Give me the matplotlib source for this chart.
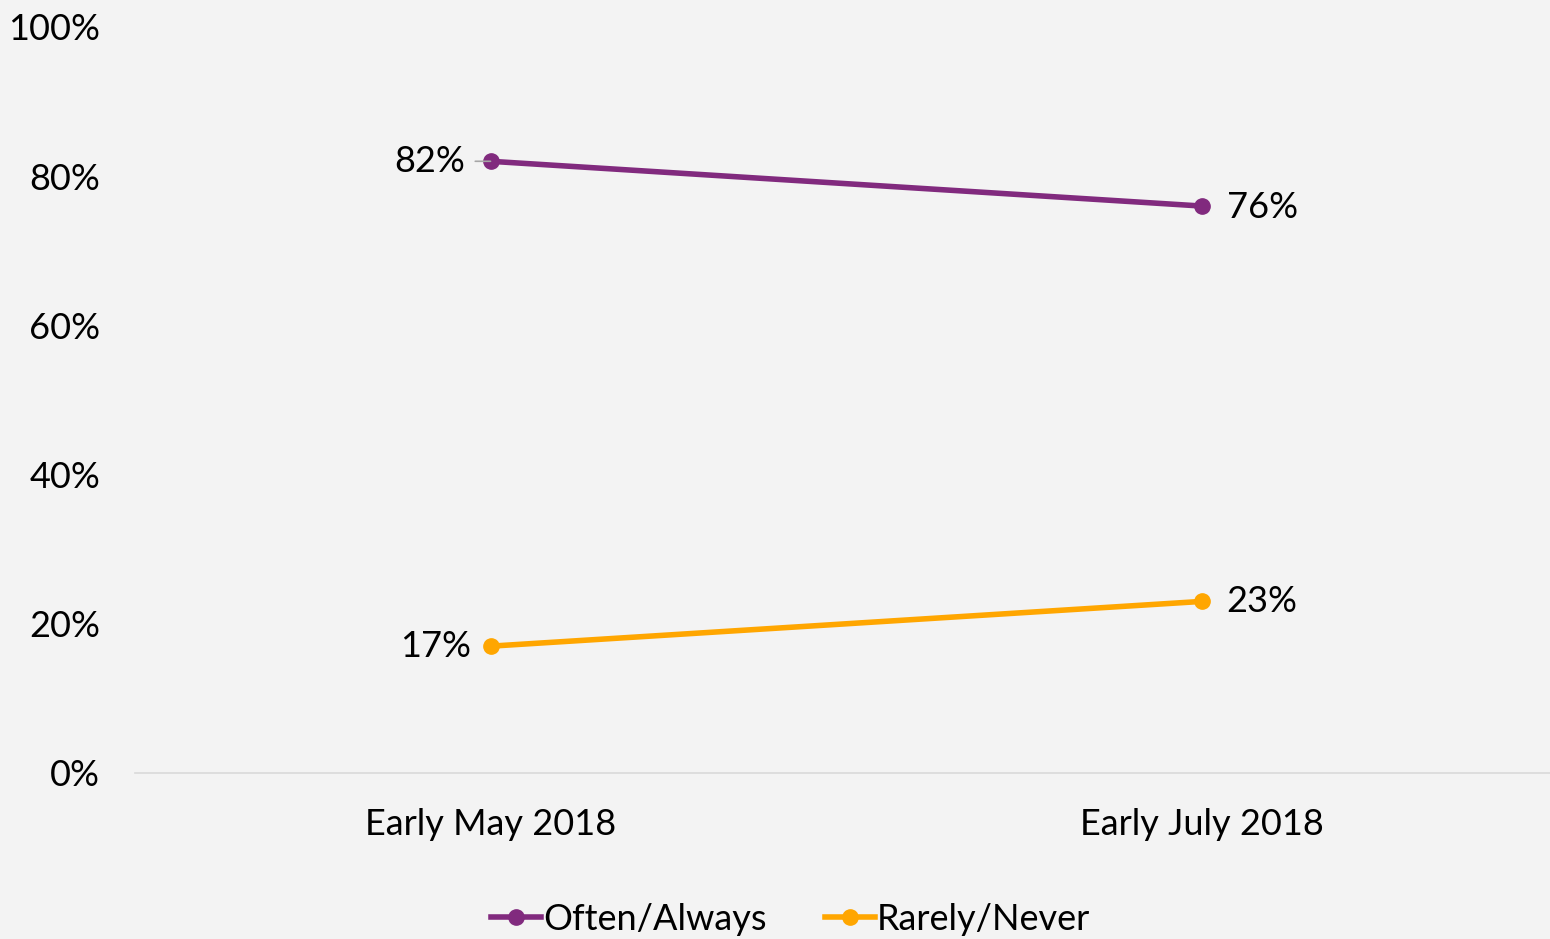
import matplotlib
matplotlib.use("Agg")
import matplotlib.pyplot as plt

# data
periods = ["Early May 2018", "Early July 2018"]
often_always = [82, 76]
rarely_never = [17, 23]
series_names = ["Often/Always", "Rarely/Never"]
yticks = [0, 20, 40, 60, 80, 100]

purple = "#812a7e"
orange = "#ffa600"
bg = "#f3f3f3"

plt.rcParams["font.family"] = ["Lato", "DejaVu Sans"]

fig = plt.figure(figsize=(15.5, 9.39), dpi=100, facecolor=bg)
ax = fig.add_axes([135 / 1550, (939 - 773) / 939, 1 - 135 / 1550, (773 - 27) / 939])
ax.set_facecolor(bg)

x = list(range(len(periods)))
ax.plot(x, often_always, color=purple, lw=4, marker="o", ms=11, label=series_names[0])
ax.plot(x, rarely_never, color=orange, lw=4, marker="o", ms=11, label=series_names[1])

ax.set_xlim(-0.5, 1.49)
ax.set_ylim(0, 100)
ax.set_xticks(x)
ax.set_xticklabels(periods)
ax.set_yticks(yticks)
ax.set_yticklabels([f"{v}%" for v in yticks])
ax.tick_params(axis="both", length=0, labelsize=26, colors="black")
ax.tick_params(axis="x", pad=25)
ax.tick_params(axis="y", pad=25)

for s in ["top", "right", "left"]:
    ax.spines[s].set_visible(False)
ax.spines["bottom"].set_color("#d9d9d9")
ax.spines["bottom"].set_linewidth(1.2)

# value labels
ax.annotate(f"{often_always[0]}%", xy=(x[0], often_always[0]), xytext=(-18, 0),
            textcoords="offset points", ha="right", va="center", fontsize=26,
            arrowprops=dict(arrowstyle="-", color="#a6a6a6", lw=1.2, shrinkA=5, shrinkB=0))
ax.annotate(f"{often_always[1]}%", xy=(x[1], often_always[1]), xytext=(18, -1),
            textcoords="offset points", ha="left", va="center", fontsize=26)
ax.annotate(f"{rarely_never[0]}%", xy=(x[0], rarely_never[0]), xytext=(-14, 0),
            textcoords="offset points", ha="right", va="center", fontsize=26)
ax.annotate(f"{rarely_never[1]}%", xy=(x[1], rarely_never[1]), xytext=(18, 0),
            textcoords="offset points", ha="left", va="center", fontsize=26)

leg = fig.legend(loc="center", bbox_to_anchor=(0.51, (939 - 919) / 939), ncol=2,
                 frameon=False, fontsize=26, handlelength=1.4, handletextpad=0.05,
                 columnspacing=1.6, borderaxespad=0)

fig.savefig("out.png", dpi=100, facecolor=bg)
